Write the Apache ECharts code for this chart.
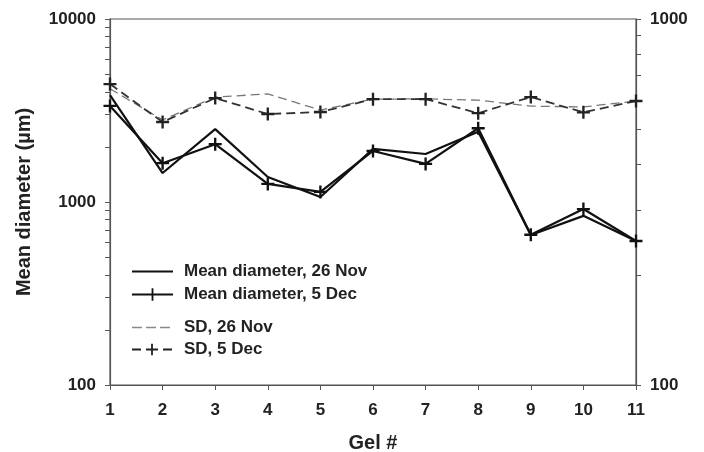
<!DOCTYPE html>
<html><head><meta charset="utf-8">
<script src="https://cdn.jsdelivr.net/npm/echarts@6/dist/echarts.min.js"></script>
<style>html,body{margin:0;padding:0;background:#fff}#c{width:704px;height:452px}</style>
</head><body><div id="c"></div>
<script>
const gels = [1,2,3,4,5,6,7,8,9,10,11];
const meanNov = [3840,1440,2500,1370,1065,1950,1830,2420,660,840,612];
const meanDec = [3350,1630,2070,1255,1135,1900,1615,2530,662,915,612];
const sdNov = [645,530,612,624,564,604,605,600,578,575,597];
const sdDec = [664,523,608,550,557,604,604,553,612,556,597];
const leftTicks = [100,200,300,400,500,600,700,800,900,1000,2000,3000,4000,5000,6000,7000,8000,9000,10000];
const leftLabels = [100,1000,10000];
const rightTicks = [100,200,300,400,500,600,700,800,900,1000];
const rightLabels = [100,1000];

const pair = a => a.map((v,i)=>[gels[i], v]);
const plus = 'path://M4.1,0H5.9V4.1H10V5.9H5.9V10H4.1V5.9H0V4.1H4.1Z';
const box = 'M0,0L0,0M47,14L47,14';
const iconSolid = 'path://' + box + 'M0,5.9H41V8.1H0Z';
const iconSolidPlus = 'path://' + box + 'M0,5.9H41V8.1H0Z M19.6,0.8H21.4V13.2H19.6Z';
const iconDash = 'path://' + box + 'M0,6.3H10V7.7H0Z M14,6.3H24V7.7H14Z M28,6.3H38V7.7H28Z';
const iconDashPlus = 'path://' + box + 'M0,6.1H9V7.9H0Z M14,6.1H26V7.9H14Z M19.1,1.2H20.9V12.8H19.1Z M31,6.1H40V7.9H31Z';
const tickFont = {fontFamily:'Liberation Sans, Arial, sans-serif', fontWeight:'bold', fontSize:17, color:'#222'};
const titleFont = {fontFamily:'Liberation Sans, Arial, sans-serif', fontWeight:'bold', fontSize:20, color:'#222'};
const axisLine = {show:true, lineStyle:{color:'#555', width:1.2}};
const plain = v => String(v);

const chart = echarts.init(document.getElementById('c'));
chart.setOption({
  animation:false,
  backgroundColor:'#fff',
  grid:{left:110, right:68, top:19, bottom:67, show:true, borderColor:'#555', borderWidth:1.2,
        containLabel:false, outerBoundsMode:'none'},
  legend:[
    {orient:'vertical', left:127, top:258, itemWidth:47, itemHeight:14, itemGap:6,
     textStyle:tickFont,
     data:[{name:'Mean diameter, 26 Nov', icon:iconSolid},{name:'Mean diameter, 5 Dec', icon:iconSolidPlus}]},
    {orient:'vertical', left:127, top:314, itemWidth:47, itemHeight:14, itemGap:5,
     textStyle:tickFont,
     data:[{name:'SD, 26 Nov', icon:iconDash},{name:'SD, 5 Dec', icon:iconDashPlus}]}
  ],
  xAxis:{type:'value', min:1, max:11, interval:1, name:'Gel #', nameLocation:'middle', nameGap:48,
    nameTextStyle:titleFont, axisLine:axisLine, axisTick:{show:true, inside:false, length:5, lineStyle:{color:'#555'}},
    axisLabel:Object.assign({margin:17, formatter:plain}, tickFont), splitLine:{show:false}},
  yAxis:[
    {type:'log', logBase:10, min:100, max:10000, name:'Mean diameter (µm)', nameLocation:'middle', nameGap:76,
     nameTextStyle:titleFont, axisLine:axisLine,
     axisTick:{show:true, length:5, customValues:leftTicks, lineStyle:{color:'#555'}},
     axisLabel:Object.assign({margin:14, customValues:leftLabels, formatter:plain}, tickFont), splitLine:{show:false}},
    {type:'log', logBase:10, min:100, max:1000, position:'right', axisLine:axisLine,
     axisTick:{show:true, length:5, customValues:rightTicks, lineStyle:{color:'#555'}},
     axisLabel:Object.assign({margin:14, customValues:rightLabels, formatter:plain}, tickFont), splitLine:{show:false}}
  ],
  series:[
    {name:'Mean diameter, 26 Nov', type:'line', yAxisIndex:0, data:pair(meanNov), symbol:'none',
     lineStyle:{color:'#111', width:2.2}, itemStyle:{color:'#111'}},
    {name:'Mean diameter, 5 Dec', type:'line', yAxisIndex:0, data:pair(meanDec), symbol:plus, symbolSize:13,
     lineStyle:{color:'#111', width:2.2}, itemStyle:{color:'#111'}},
    {name:'SD, 26 Nov', type:'line', yAxisIndex:1, data:pair(sdNov), symbol:'none',
     lineStyle:{color:'#777', width:1.3, type:[9,5]}, itemStyle:{color:'#888'}},
    {name:'SD, 5 Dec', type:'line', yAxisIndex:1, data:pair(sdDec), symbol:plus, symbolSize:13,
     lineStyle:{color:'#333', width:1.8, type:[9,5]}, itemStyle:{color:'#222'}}
  ]
});
</script></body></html>
